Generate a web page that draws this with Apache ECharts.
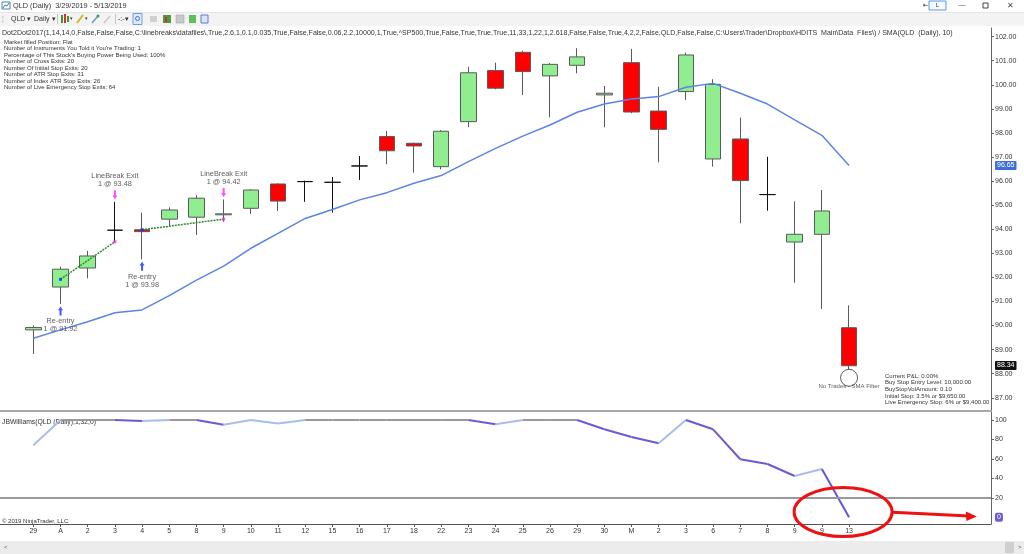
<!DOCTYPE html>
<html><head><meta charset="utf-8">
<script src="https://cdn.jsdelivr.net/npm/echarts@6/dist/echarts.min.js"></script>
<style>html,body{margin:0;padding:0;background:#fff;overflow:hidden}#c{width:1024px;height:554px}</style>
</head><body><div id="c"></div><script>
// ---------------- data ----------------
const categories = ['29','A','2','3','4','5','8','9','10','11','12','15','16','17','18','22','23','24','25','26','29','30','M','2','3','6','7','8','9','9','13'];
const opens  = [89.82,91.60,92.39,93.96,93.98,94.42,94.50,94.60,94.87,95.88,95.98,95.95,96.63,97.85,97.57,96.60,98.47,100.59,101.35,100.37,100.81,99.58,100.92,98.91,99.72,96.92,97.75,95.44,93.47,93.79,89.91];
const closes = [89.92,92.34,92.89,93.96,93.90,94.80,95.29,94.64,95.63,95.17,95.98,95.95,96.63,97.26,97.46,98.07,100.50,99.86,100.55,100.85,101.16,99.65,98.87,98.15,101.24,100.02,96.02,95.44,93.79,94.76,88.33];
const lows   = [88.82,90.90,91.96,93.48,92.75,94.14,93.76,94.31,94.64,94.76,95.14,94.69,96.05,96.70,96.35,96.49,98.24,99.81,99.58,98.65,100.48,98.24,98.82,96.78,99.37,96.60,94.25,94.77,91.78,90.69,88.18];
const highs  = [90.00,92.45,93.10,95.14,94.69,94.91,95.42,95.24,95.66,95.91,96.02,96.17,97.04,98.08,97.60,98.12,100.75,100.92,101.42,100.90,101.52,99.95,101.49,99.92,101.34,100.23,98.64,97.01,95.16,95.63,90.84];
const sma10  = [89.47,89.82,90.16,90.53,90.65,91.24,91.89,92.47,93.21,93.83,94.45,94.82,95.22,95.52,95.91,96.23,96.81,97.36,97.87,98.33,98.86,99.20,99.41,99.51,99.90,100.06,99.65,99.20,98.54,97.90,96.65];
const jbw    = [74,100,100,100,99,100,100,95,100,96.5,100,100,100,100,100,100,100,95.5,100,100,100,90.4,82.5,76,100,90.4,59.6,54.8,42.4,49.6,0];
const jbwState = ['','up','flat','flat','down','up','flat','down','up','up','up','flat','flat','flat','flat','flat','flat','down','up','flat','flat','down','down','down','up','down','down','down','down','up','last'];
const priceTicks = [87,88,89,90,91,92,93,94,95,96,97,98,99,100,101,102];
const jbwTicks = [20,40,60,80,100];
const smaLast = 96.65, priceLast = 88.34, jbwLast = 0;
const entries = [[1,90.90,'Re-entry','1 @ 91.92'],[4,92.75,'Re-entry','1 @ 93.98']];
const exits   = [[3,95.14,'LineBreak Exit','1 @ 93.48'],[7,95.24,'LineBreak Exit','1 @ 94.42']];
const trade1 = [[1,91.92],[3,93.48]];
const trade2 = [[4,93.98],[7,94.42]];
const noTrade = [30,87.83,'No Trades - SMA Filter'];
const headerText = 'Dot2Dot2017(1,14,14,0,False,False,False,C:\\linebreaks\\datafiles\\,True,2.6,1,0.1,0.035,True,False,False,0.06,2.2,10000,1,True,^SP500,True,False,True,True,True,11,33,1,22,1,2.618,False,False,True,4,2,2,False,QLD,False,False,C:\\Users\\Trader\\Dropbox\\HDITS  Main\\Data  Files\\) / SMA(QLD  (Daily), 10)';
const statLines = ['Market filled Position: Flat',"Number of Instruments You Told it You're Trading: 1","Percentage of This Stock's Buying Power Being Used: 100%",'Number of Cross Exits: 20','Number Of Initial Stop Exits: 20','Number of ATR Stop Exits: 31','Number of Index ATR Stop Exits: 26','Number of Live Emergency Stop Exits: 64'];
const pnlLines = ['Current P&L: 0.00%','Buy Stop Entry Level: 10,000.00','BuyStopVolAmount: 0.10','Initial Stop: 3.5% or $9,650.00','Live Emergency Stop: 6% or $9,400.00'];

// ---------------- chart ----------------
const FONT = '"Liberation Sans", Arial, sans-serif';
const stateColors = {up:'#a9bde9', down:'#6b5bd2', flat:'#9a9a9a', last:'#5f57dc'};
const xMin = -1.225, xMax = 35.22;
const idx = categories.map((_, i) => i);
const chart = echarts.init(document.getElementById('c'), null, {renderer:'canvas'});
const arrowUp = 'path://M5,0 L10,5 L7,5 L7,12 L3,12 L3,5 L0,5 Z';

function txt(x, y, s, size, extra) {
  return {type:'text', x:x, y:y, silent:true, style:Object.assign({text:s, font:size+'px '+FONT, fill:'#333', textVerticalAlign:'middle'}, extra||{})};
}
const graphics = [];
// title bar
graphics.push({type:'rect', shape:{x:2,y:2,width:8,height:7}, style:{fill:'#fff', stroke:'#4a7bd0', lineWidth:1}});
graphics.push({type:'polyline', shape:{points:[[3,8],[5,5],[7,6],[9,3]]}, style:{stroke:'#2a9d3a', lineWidth:1, fill:null}});
graphics.push(txt(13, 6, 'QLD (Daily)  3/29/2019 - 5/13/2019', 7.3));
graphics.push({type:'rect', shape:{x:929,y:1,width:17,height:9}, style:{fill:'#f4f8ff', stroke:'#5b9be0', lineWidth:1}});
graphics.push(txt(937.5, 5.5, 'L', 6, {textAlign:'center'}));
graphics.push(txt(925, 5.5, '⇤', 6, {textAlign:'center', fill:'#333'}));
graphics.push(txt(962, 5.5, '—', 7, {textAlign:'center', fill:'#444'}));
graphics.push({type:'rect', shape:{x:983,y:3,width:5,height:5}, style:{fill:'none', stroke:'#444', lineWidth:1}});
graphics.push(txt(1010, 5.5, '✕', 7.5, {textAlign:'center', fill:'#444'}));
// toolbar
graphics.push({type:'rect', shape:{x:0,y:12,width:1024,height:14}, style:{fill:'#f3f3f3'}});
graphics.push({type:'rect', shape:{x:0,y:12,width:1024,height:1}, style:{fill:'#e6e6e6'}});
graphics.push(txt(2, 19, '¦', 7, {fill:'#aaa'}));
graphics.push(txt(11, 19, 'QLD ▾', 7));
graphics.push(txt(34, 19, 'Daily ▾', 7));
graphics.push({type:'rect', shape:{x:57,y:14,width:1,height:10}, style:{fill:'#c8c8c8'}});
graphics.push({type:'rect', shape:{x:61,y:15,width:2,height:8}, style:{fill:'#2f9e2f'}});
graphics.push({type:'rect', shape:{x:64,y:14,width:2,height:9}, style:{fill:'#d83030'}});
graphics.push({type:'rect', shape:{x:67,y:16,width:2,height:6}, style:{fill:'#2f9e2f'}});
graphics.push(txt(70, 19, '▾', 5));
graphics.push({type:'line', shape:{x1:77,y1:23,x2:83,y2:15}, style:{stroke:'#e0b020', lineWidth:2}});
graphics.push(txt(85, 19, '▾', 5));
graphics.push({type:'line', shape:{x1:92,y1:23,x2:98,y2:16}, style:{stroke:'#6a9ad0', lineWidth:1.5}});
graphics.push({type:'circle', shape:{cx:98,cy:16,r:1.5}, style:{fill:'#2fa84f'}});
graphics.push({type:'line', shape:{x1:104,y1:23,x2:110,y2:16}, style:{stroke:'#c8c8c8', lineWidth:1.5}});
graphics.push({type:'rect', shape:{x:115,y:14,width:1,height:10}, style:{fill:'#c8c8c8'}});
graphics.push(txt(118, 19, '-:-▾', 7, {fill:'#333'}));
graphics.push({type:'rect', shape:{x:133,y:13.5,width:9,height:11}, style:{fill:'#dbe9fb', stroke:'#6aa0e0', lineWidth:1}});
graphics.push({type:'circle', shape:{cx:137.5,cy:18.5,r:2}, style:{fill:'none', stroke:'#4a6fb0', lineWidth:1}});
graphics.push({type:'rect', shape:{x:150,y:16,width:7,height:6}, style:{fill:'#d0d0d0'}});
graphics.push({type:'rect', shape:{x:163,y:15,width:8,height:8}, style:{fill:'#4e9a3e'}});
graphics.push({type:'rect', shape:{x:165,y:17,width:2,height:5}, style:{fill:'#d03030'}});
graphics.push({type:'rect', shape:{x:176,y:15,width:8,height:8}, style:{fill:'#c9c9c9', stroke:'#999', lineWidth:0.5}});
graphics.push({type:'rect', shape:{x:189,y:15,width:7,height:8}, style:{fill:'#5fbf5f'}});
graphics.push({type:'rect', shape:{x:201,y:15,width:7,height:8}, style:{fill:'#dce6f8', stroke:'#5b7fc8', lineWidth:1}});
// chart panel texts
graphics.push(txt(2, 33.5, headerText, 7.05));
statLines.forEach((s, k) => graphics.push(txt(4, 42 + k*6.5, s, 6)));
pnlLines.forEach((s, k) => graphics.push(txt(885, 376 + k*6.65, s, 6)));
graphics.push(txt(2, 422, 'JBWilliams(QLD (Daily),1,32,0)', 6.8));
graphics.push(txt(2, 521, '© 2019 NinjaTrader, LLC', 6));
// scroll bar
graphics.push({type:'rect', shape:{x:0,y:541,width:1024,height:13}, style:{fill:'#ececec'}});
graphics.push(txt(4, 547.5, '<', 6, {fill:'#555'}));
graphics.push({type:'rect', shape:{x:1005,y:542,width:9,height:11}, style:{fill:'#cfcfcf'}});
graphics.push(txt(1018, 547.5, '>', 6, {fill:'#555'}));

const option = {
  animation:false,
  backgroundColor:'#ffffff',
  textStyle:{fontFamily:FONT},
  grid:[
    {left:0, right:33, top:28, height:383},
    {left:0, right:33, top:412, height:112}
  ],
  xAxis:[
    {type:'value', gridIndex:0, min:xMin, max:xMax, position:'bottom',
     axisLine:{show:true, onZero:false, lineStyle:{color:'#a8a8a8', width:2}},
     axisTick:{show:false}, axisLabel:{show:false}, splitLine:{show:false}},
    {type:'value', gridIndex:1, min:xMin, max:xMax, position:'bottom',
     axisLine:{show:true, onZero:false, lineStyle:{color:'#555', width:1}},
     axisTick:{show:true, length:3, customValues:idx, lineStyle:{color:'#555'}},
     axisLabel:{show:true, customValues:idx, formatter:v => categories[Math.round(v)], fontSize:7, color:'#333', margin:4, fontFamily:FONT},
     splitLine:{show:false}}
  ],
  yAxis:[
    {type:'value', gridIndex:0, position:'right', min:86.45, max:102.36,
     axisLine:{show:true, onZero:false, lineStyle:{color:'#666'}},
     axisTick:{show:true, length:3, customValues:priceTicks, lineStyle:{color:'#666'}},
     axisLabel:{show:true, customValues:priceTicks.concat([smaLast, priceLast]), fontSize:7, color:'#333', margin:4, fontFamily:FONT,
       formatter:v => Math.abs(v-smaLast)<1e-6 ? '{sma|'+v.toFixed(2)+'}' : (Math.abs(v-priceLast)<1e-6 ? '{last|'+v.toFixed(2)+'}' : v.toFixed(2)),
       rich:{sma:{backgroundColor:'#3f6fd6', color:'#fff', fontSize:7, padding:[1,2,1,2], borderRadius:1},
             last:{backgroundColor:'#111', color:'#fff', fontSize:7, padding:[1,2,1,2], borderRadius:1}}},
     splitLine:{show:false}},
    {type:'value', gridIndex:1, position:'right', min:-6.9, max:108.2,
     axisLine:{show:true, onZero:false, lineStyle:{color:'#666'}},
     axisTick:{show:true, length:3, customValues:jbwTicks, lineStyle:{color:'#666'}},
     axisLabel:{show:true, customValues:jbwTicks.concat([jbwLast]), fontSize:7, color:'#333', margin:4, fontFamily:FONT,
       formatter:v => Math.abs(v-jbwLast)<1e-6 ? '{b|'+v+'}' : String(v),
       rich:{b:{backgroundColor:'#6b5bd2', color:'#fff', fontSize:7, padding:[1,2,1,2], borderRadius:2}}},
     splitLine:{show:false}}
  ],
  series:[
    {type:'candlestick', xAxisIndex:0, yAxisIndex:0, barWidth:16,
     data: idx.map(i => [i, opens[i], closes[i], lows[i], highs[i]]),
     itemStyle:{color:'#90ee90', color0:'#ff0000', borderColor:'#5a5a5a', borderColor0:'#5a5a5a', borderColorDoji:'#111', borderWidth:1}},
    {type:'line', xAxisIndex:0, yAxisIndex:0, data: idx.map(i => [i, sma10[i]]), symbol:'none',
     lineStyle:{color:'#5b83e8', width:1.5}, z:3},
    {type:'line', xAxisIndex:0, yAxisIndex:0, data:trade1, symbol:'none', lineStyle:{color:'#2e8b2e', width:1.5, type:[2,1]}, z:4},
    {type:'line', xAxisIndex:0, yAxisIndex:0, data:trade2, symbol:'none', lineStyle:{color:'#2e8b2e', width:1.5, type:[2,1]}, z:4},
    {type:'scatter', xAxisIndex:0, yAxisIndex:0, symbol:'rect', symbolSize:3, z:5,
     data:[{value:trade1[0], itemStyle:{color:'#1030ff'}}, {value:trade1[1], itemStyle:{color:'#ff20ff'}},
           {value:trade2[0], itemStyle:{color:'#1030ff'}}, {value:trade2[1], itemStyle:{color:'#ff20ff'}}]},
    {type:'scatter', xAxisIndex:0, yAxisIndex:0, symbol:arrowUp, symbolSize:[5,9], symbolOffset:[0,7], z:6,
     itemStyle:{color:'#1030ff'},
     label:{show:true, position:'bottom', distance:2, fontSize:7.3, lineHeight:8, color:'#333', fontFamily:FONT,
       formatter:p => p.data[2]+'\n'+p.data[3]},
     data:entries},
    {type:'scatter', xAxisIndex:0, yAxisIndex:0, symbol:arrowUp, symbolRotate:180, symbolSize:[5,9], symbolOffset:[0,-7], z:6,
     itemStyle:{color:'#ff20ff'},
     label:{show:true, position:'top', distance:2, fontSize:7.3, lineHeight:8, color:'#333', fontFamily:FONT,
       formatter:p => p.data[2]+'\n'+p.data[3]},
     data:exits},
    {type:'scatter', xAxisIndex:0, yAxisIndex:0, symbol:'circle', symbolSize:17, z:6,
     itemStyle:{color:'rgba(255,255,255,0)', borderColor:'#333', borderWidth:1},
     label:{show:true, position:'inside', offset:[0,9], fontSize:6, color:'#333', fontFamily:FONT, formatter:p => p.data[2]},
     data:[noTrade]},
    {type:'custom', xAxisIndex:1, yAxisIndex:1, z:3,
     data: idx.map(i => [i, jbw[i]]),
     encode:{x:0, y:1},
     renderItem:function(params, api){
       const i = params.dataIndex;
       if (i === 0) return {type:'group', children:[]};
       const p0 = api.coord([i-1, jbw[i-1]]);
       const p1 = api.coord([i, jbw[i]]);
       return {type:'line', shape:{x1:p0[0], y1:p0[1], x2:p1[0], y2:p1[1]}, style:{stroke:stateColors[jbwState[i]], lineWidth:2}};
     },
     markLine:{silent:true, symbol:['none','none'], label:{show:false}, lineStyle:{color:'#9a9a9a', width:2, type:'solid'},
       data:[{yAxis:20}]}}
  ],
  graphic: graphics
};
chart.setOption(option);

// red annotation around the last indicator value
const c = chart.convertToPixel({gridIndex:1}, [29.78, 5.4]);
const a0 = chart.convertToPixel({gridIndex:1}, [31.6, 5.2]);
const a1 = chart.convertToPixel({gridIndex:1}, [34.7, 0.8]);
chart.setOption({graphic: graphics.concat([
  {type:'ellipse', shape:{cx:c[0], cy:c[1], rx:49, ry:24.5}, style:{fill:'none', stroke:'#ee1111', lineWidth:3}, z:100},
  {type:'line', shape:{x1:a0[0], y1:a0[1], x2:a1[0]-8, y2:a1[1]-0.4}, style:{stroke:'#ee1111', lineWidth:3}, z:100},
  {type:'polygon', shape:{points:[[a1[0], a1[1]], [a1[0]-11, a1[1]-5], [a1[0]-10.5, a1[1]+4.5]]}, style:{fill:'#ee1111'}, z:100}
])});
</script></body></html>
